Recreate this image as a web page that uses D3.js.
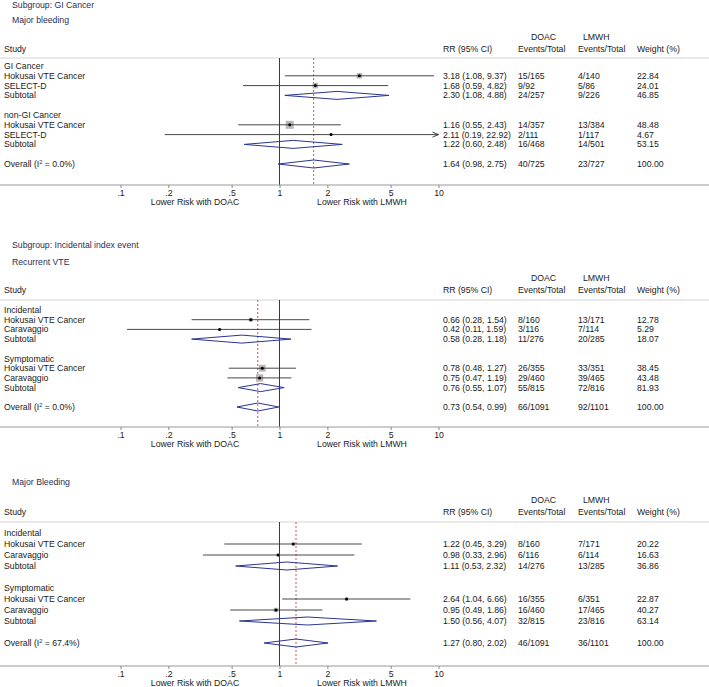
<!DOCTYPE html>
<html><head><meta charset="utf-8">
<script src="https://cdn.jsdelivr.net/npm/d3@7"></script>
<style>html,body{margin:0;padding:0;background:#fff;}svg{display:block;font-family:"Liberation Sans",Arial,Helvetica,sans-serif;}</style>
</head><body>
<script>
// ---------- data ----------
const rowKinds = ["group","study","study","sub","group","study","study","sub","overall"];
const tickValues = [0.1,0.2,0.5,1,2,5,10];
const tickLabels = [".1",".2",".5","1","2","5","10"];
const leftAxisNote = "Lower Risk with DOAC";
const rightAxisNote = "Lower Risk with LMWH";

const p1Titles = ["Subgroup: GI Cancer","Major bleeding"];
const p1Labels = ["GI Cancer","Hokusai VTE Cancer","SELECT-D","Subtotal","non-GI Cancer","Hokusai VTE Cancer","SELECT-D","Subtotal","Overall"];
const p1RR = [null,3.18,1.68,2.30,null,1.16,2.11,1.22,1.64];
const p1Lo = [null,1.08,0.59,1.08,null,0.55,0.19,0.60,0.98];
const p1Hi = [null,9.37,4.82,4.88,null,2.43,22.92,2.48,2.75];
const p1Doac = ["","15/165","9/92","24/257","","14/357","2/111","16/468","40/725"];
const p1Lmwh = ["","4/140","5/86","9/226","","13/384","1/117","14/501","23/727"];
const p1Weight = [null,22.84,24.01,46.85,null,48.48,4.67,53.15,100.00];
const p1I2 = "0.0%";

const p2Titles = ["Subgroup: Incidental index event","Recurrent VTE"];
const p2Labels = ["Incidental","Hokusai VTE Cancer","Caravaggio","Subtotal","Symptomatic","Hokusai VTE Cancer","Caravaggio","Subtotal","Overall"];
const p2RR = [null,0.66,0.42,0.58,null,0.78,0.75,0.76,0.73];
const p2Lo = [null,0.28,0.11,0.28,null,0.48,0.47,0.55,0.54];
const p2Hi = [null,1.54,1.59,1.18,null,1.27,1.19,1.07,0.99];
const p2Doac = ["","8/160","3/116","11/276","","26/355","29/460","55/815","66/1091"];
const p2Lmwh = ["","13/171","7/114","20/285","","33/351","39/465","72/816","92/1101"];
const p2Weight = [null,12.78,5.29,18.07,null,38.45,43.48,81.93,100.00];
const p2I2 = "0.0%";

const p3Titles = ["Major Bleeding"];
const p3Labels = ["Incidental","Hokusai VTE Cancer","Caravaggio","Subtotal","Symptomatic","Hokusai VTE Cancer","Caravaggio","Subtotal","Overall"];
const p3RR = [null,1.22,0.98,1.11,null,2.64,0.95,1.50,1.27];
const p3Lo = [null,0.45,0.33,0.53,null,1.04,0.49,0.56,0.80];
const p3Hi = [null,3.29,2.96,2.32,null,6.66,1.86,4.07,2.02];
const p3Doac = ["","8/160","6/116","14/276","","16/355","16/460","32/815","46/1091"];
const p3Lmwh = ["","7/171","6/114","13/285","","6/351","17/465","23/816","36/1101"];
const p3Weight = [null,20.22,16.63,36.86,null,22.87,40.27,63.14,100.00];
const p3I2 = "67.4%";

// ---------- layout ----------
const W = 709, H = 687;
const FS = 8.7;
const titleColor = "#1f3056";
const textColor = "#1a1a1a";
const diamondColor = "#2a3593";
const slots = [0,1,2,3,5,6,7,8,10];

const panels = [
  {titles:p1Titles, titleY:[5,20], hdrTop:37, hdrY:49, lineY:58, y0:66, y10:164, axisY:185, box:1.15,
   labels:p1Labels, rr:p1RR, lo:p1Lo, hi:p1Hi, doac:p1Doac, lmwh:p1Lmwh, w:p1Weight, i2:p1I2},
  {titles:p2Titles, titleY:[245,262], hdrTop:278, hdrY:290, lineY:300, y0:310, y10:407, axisY:427, box:1.1,
   labels:p2Labels, rr:p2RR, lo:p2Lo, hi:p2Hi, doac:p2Doac, lmwh:p2Lmwh, w:p2Weight, i2:p2I2},
  {titles:p3Titles, titleY:[482], hdrTop:500, hdrY:512, lineY:522, y0:533, y10:643, axisY:666, box:0.7,
   labels:p3Labels, rr:p3RR, lo:p3Lo, hi:p3Hi, doac:p3Doac, lmwh:p3Lmwh, w:p3Weight, i2:p3I2}
];

const x = d3.scaleLog().domain([0.1,10]).range([120.5,438.5]);
const colRR = 443, colD = 518, colL = 578, colW = 637;

const svg = d3.select("body").append("svg").attr("width",W).attr("height",H);

function txt(g, xx, yy, s, opt={}) {
  return g.append("text").attr("x",xx).attr("y",yy).attr("dy","0.35em")
    .attr("font-size",opt.fs||FS).attr("fill",opt.fill||textColor)
    .attr("text-anchor",opt.anchor||"start").text(s);
}

panels.forEach(p => {
  const g = svg.append("g");
  const y = d3.scaleLinear().domain([0,10]).range([p.y0,p.y10]);
  p.titles.forEach((t,i)=> txt(g,12,p.titleY[i],t,{fill:titleColor}));
  // headers
  txt(g,4,p.hdrY,"Study");
  txt(g,colRR,p.hdrY,"RR (95% CI)");
  txt(g,531,p.hdrTop,"DOAC");
  txt(g,583,p.hdrTop,"LMWH");
  txt(g,colD,p.hdrY,"Events/Total");
  txt(g,colL,p.hdrY,"Events/Total");
  txt(g,colW,p.hdrY,"Weight (%)");
  g.append("line").attr("x1",0).attr("x2",W).attr("y1",p.lineY).attr("y2",p.lineY)
    .attr("stroke","#d4d4d4").attr("stroke-width",1);

  // reference lines
  g.append("line").attr("x1",x(1)).attr("x2",x(1)).attr("y1",p.lineY).attr("y2",p.axisY)
    .attr("stroke","#3a3a3a").attr("stroke-width",1);
  const ov = p.rr[8];
  g.append("line").attr("x1",x(ov)).attr("x2",x(ov)).attr("y1",p.lineY).attr("y2",p.axisY)
    .attr("stroke","#d0403a").attr("stroke-width",0.9).attr("stroke-dasharray","2,2");

  // rows
  rowKinds.forEach((k,i)=>{
    const yy = y(slots[i]);
    if (k==="overall") {
      const t = g.append("text").attr("x",4).attr("y",yy).attr("dy","0.35em")
        .attr("font-size",FS).attr("fill",textColor);
      t.append("tspan").text("Overall (I");
      t.append("tspan").attr("dy",-3).attr("font-size",5.5).text("2");
      t.append("tspan").attr("dy",3).text(" = " + p.i2 + ")");
    } else {
      txt(g,4,yy,p.labels[i]);
    }
    if (k==="group") return;
    const rr=p.rr[i], lo=p.lo[i], hi=p.hi[i];
    txt(g,colRR,yy,`${rr.toFixed(2)} (${lo.toFixed(2)}, ${hi.toFixed(2)})`);
    txt(g,colD,yy,p.doac[i]);
    txt(g,colL,yy,p.lmwh[i]);
    txt(g,colW,yy,p.w[i].toFixed(2));
    if (k==="study") {
      const s = p.box*Math.sqrt(p.w[i]);
      g.append("rect").attr("x",x(rr)-s/2).attr("y",yy-s/2).attr("width",s).attr("height",s)
        .attr("fill","#b8b8b8");
      const xl = x(Math.max(lo,0.1)), xh = x(Math.min(hi,10));
      g.append("line").attr("x1",xl).attr("x2",xh).attr("y1",yy).attr("y2",yy)
        .attr("stroke","#333").attr("stroke-width",0.9);
      if (hi>10) {
        g.append("path").attr("d",`M${xh-6},${yy-2.5}L${xh},${yy}L${xh-6},${yy+2.5}`)
          .attr("fill","none").attr("stroke","#333").attr("stroke-width",0.9);
      }
      g.append("circle").attr("cx",x(rr)).attr("cy",yy).attr("r",1.5).attr("fill","#000");
    } else {
      const hh = 4;
      g.append("path").attr("d",`M${x(lo)},${yy}L${x(rr)},${yy-hh}L${x(hi)},${yy}L${x(rr)},${yy+hh}Z`)
        .attr("fill","none").attr("stroke",diamondColor).attr("stroke-width",1);
    }
  });

  // axis
  g.append("line").attr("x1",0).attr("x2",W).attr("y1",p.axisY).attr("y2",p.axisY)
    .attr("stroke","#9a9a9a").attr("stroke-width",1.2);
  const ax = g.append("g").attr("transform",`translate(0,${p.axisY})`)
    .call(d3.axisBottom(x).tickValues(tickValues).tickFormat((d,i)=>tickLabels[i]).tickSize(3).tickPadding(1.5));
  ax.select(".domain").remove();
  ax.selectAll(".tick line").attr("stroke","#888");
  ax.selectAll(".tick text").attr("font-size",FS).attr("fill",textColor)
    .attr("font-family","Liberation Sans, Arial, sans-serif");
  txt(g,195,p.axisY+16.5,leftAxisNote,{anchor:"middle"});
  txt(g,362,p.axisY+16.5,rightAxisNote,{anchor:"middle"});
});
</script>
</body></html>
